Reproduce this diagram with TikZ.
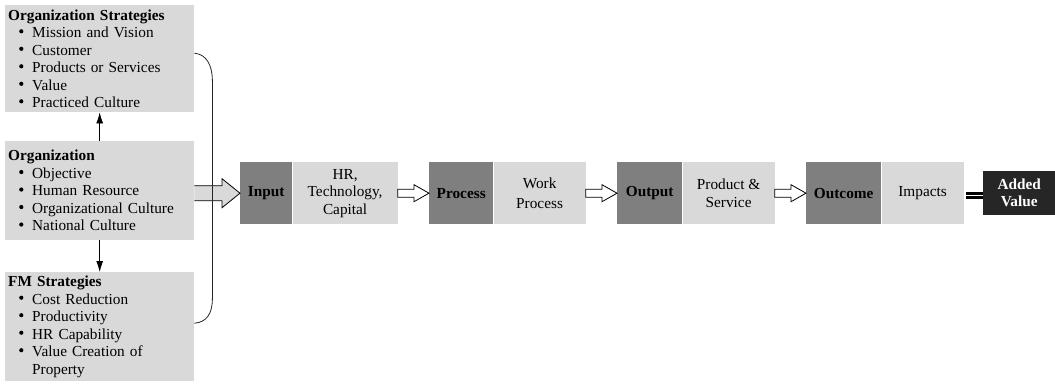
\documentclass[tikz,border=0pt]{standalone}
\usepackage{fontspec}
\setmainfont{Liberation Serif}
\usetikzlibrary{arrows.meta,calc}
\definecolor{boxlight}{HTML}{D9D9D9}
\definecolor{boxdark}{HTML}{7F7F7F}
\definecolor{boxblack}{HTML}{262626}
% list bullet: a filled dot on the x-height middle
\newcommand\dotmark{\raisebox{0.28em}{\tikz[x=1pt,y=1pt]\fill (0,0) circle (2.1);}}
% bulleted entry and its continuation line
\newcommand\itm[1]{\\\hspace*{11pt}\makebox[13pt][l]{\dotmark}#1}
\newcommand\cont[1]{\\\hspace*{24pt}#1}
% hollow block arrow: [style]{from}{to}{shaft half}{head half}{head length}
\newcommand\blockarrow[6][]{%
  \draw[#1] let \p1=(#2), \p2=(#3) in
    (\x1,\y2+#4) -- (\x2-#6,\y2+#4) -- (\x2-#6,\y2+#5) -- (\x2,\y2)
    -- (\x2-#6,\y2-#5) -- (\x2-#6,\y2-#4) -- (\x1,\y2-#4) -- cycle;}
\tikzset{
  x=1pt, y=-1pt,
  txt/.style={font=\fontsize{15.3}{17.5}\selectfont},
  sidebox/.style={txt, fill=boxlight, anchor=north west, minimum width=189,
    text width=183, inner xsep=3pt, inner ysep=0pt, align=left},
  dbox/.style={txt, fill=boxdark, font=\fontsize{15.3}{17.5}\selectfont\bfseries,
    minimum height=62, inner sep=0pt},
  lbox/.style={txt, fill=boxlight, minimum height=62, inner sep=0pt, align=center, anchor=west},
  conn/.style={line width=0.8pt, -{Latex[length=11pt,width=7pt]}},
  brace/.style={line width=0.8pt, draw=black!85},
  flowarrow/.style={draw=black, fill=white, line width=0.8pt},
  eqbar/.style={line width=3.5pt, draw=black},
}
\begin{document}
\begin{tikzpicture}
\useasboundingbox (0,0) rectangle (1055,383);

% three stacked context boxes
\node[sidebox, minimum height=107] (strat) at (5,5)
  {\textbf{Organization Strategies}\itm{Mission and Vision}\itm{Customer}%
   \itm{Products or Services}\itm{Value}\itm{Practiced Culture}};
\node[sidebox, minimum height=99] (org) at (5,141)
  {\textbf{Organization}\itm{Objective}\itm{Human Resource}%
   \itm{Organizational Culture}\itm{National Culture}};
\node[sidebox, minimum height=109] (fm) at (5,272)
  {\textbf{FM Strategies}\itm{Cost Reduction}\itm{Productivity}%
   \itm{HR Capability}\itm{Value Creation of}\cont{Property}};

\draw[conn] (org.north) -- (strat.south);
\draw[conn] (org.south) -- (fm.south |- fm.north);

% value chain
\node[dbox, minimum width=52, anchor=north west] (indark) at (240,162) {Input};
\node[lbox, minimum width=105] (inlight) at (indark.east) {HR,\\Technology,\\Capital};
\node[dbox, minimum width=64, anchor=north west] (prdark) at (429,162) {Process};
\node[lbox, minimum width=92] (prlight) at (prdark.east) {Work\\[2pt]Process};
\node[dbox, minimum width=65, anchor=north west] (outdark) at (617,162) {Output};
\node[lbox, minimum width=92] (outlight) at (outdark.east) {Product \&\\Service};
\node[dbox, minimum width=75, anchor=north west] (ocdark) at (806,162) {Outcome};
\node[lbox, minimum width=82] (oclight) at (ocdark.east) {Impacts};
\node[txt, fill=boxblack, text=white, font=\fontsize{15.3}{17}\selectfont\bfseries,
  minimum width=72, minimum height=44, inner sep=0pt, align=center, anchor=north west]
  (added) at (983,171) {Added\\Value};

% wide arrow from the organization box into the chain
\fill[boxlight] let \p1=(org.east), \p2=(indark.west) in
  (\x1,\y2+7.5pt) -- (\x2-18pt,\y2+7.5pt) -- (\x2-18pt,\y2+14.5pt) -- (\x2,\y2)
  -- (\x2-18pt,\y2-14.5pt) -- (\x2-18pt,\y2-7.5pt) -- (\x1,\y2-7.5pt) -- cycle;
\draw[line width=0.8pt] let \p1=(org.east), \p2=(indark.west) in
  (\x1,\y2+7.5pt) -- (\x2-18pt,\y2+7.5pt) -- (\x2-18pt,\y2+14.5pt) -- (\x2,\y2)
  -- (\x2-18pt,\y2-14.5pt) -- (\x2-18pt,\y2-7.5pt) -- (\x1,\y2-7.5pt);

% bracket joining the two strategy boxes
\coordinate (bt) at ([shift={(0,-5.5)}]strat.east);
\coordinate (bb) at ([shift={(0,-3.5)}]fm.east);
\draw[brace] (bt) .. controls +(12,1) and +(0,-16) .. ($(bt)+(18,28)$)
  -- ($(bb)+(18,-25)$) .. controls +(0,16) and +(12,-1) .. (bb);

% arrows between stages
\blockarrow[flowarrow]{inlight.east}{prdark.west}{4pt}{8.5pt}{15pt}
\blockarrow[flowarrow]{prlight.east}{outdark.west}{4pt}{8.5pt}{15pt}
\blockarrow[flowarrow]{outlight.east}{ocdark.west}{4pt}{8.5pt}{15pt}

% equals sign
\draw[eqbar] ([shift={(2,0.5)}]oclight.east) -- ([shift={(0,0.5)}]added.west);
\draw[eqbar] ([shift={(2,4.5)}]oclight.east) -- ([shift={(0,4.5)}]added.west);
\end{tikzpicture}
\end{document}
